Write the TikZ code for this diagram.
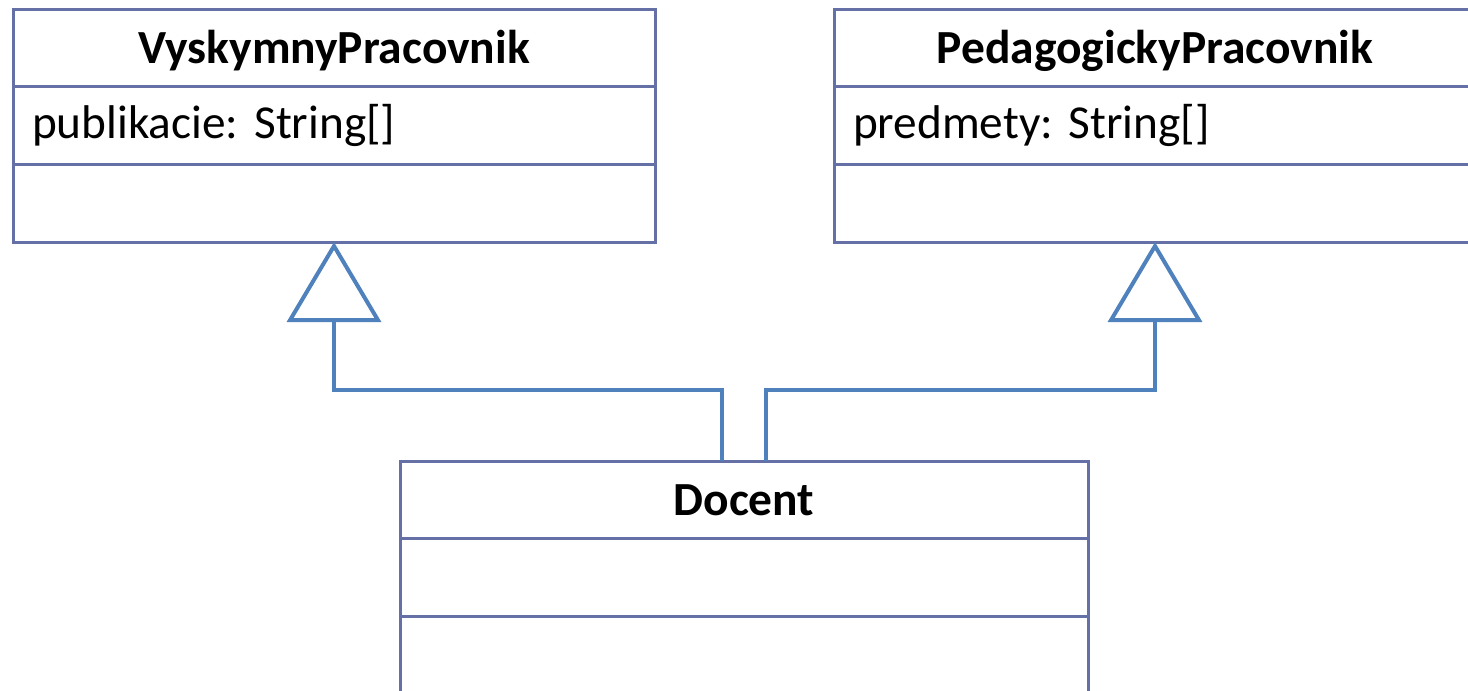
\documentclass[tikz,border=0pt]{standalone}
\usepackage{fontspec}
\setmainfont{Carlito}
\usetikzlibrary{arrows.meta}
\definecolor{boxc}{RGB}{101,112,166}
\definecolor{linec}{RGB}{79,129,189}
\begin{document}
\frenchspacing
\begin{tikzpicture}[x=1pt,y=-1pt,
  comp/.style={draw=boxc, line width=3pt, anchor=north west, inner sep=0pt, outer sep=0pt, minimum height=77.7pt},
  ctitle/.style={comp, font=\fontsize{47.5}{52}\selectfont\bfseries, align=center, text height=31pt, text depth=0pt},
  cattr/.style={comp, font=\fontsize{47.3}{52}\selectfont, align=left, inner xsep=19pt, text height=25pt, text depth=0pt},
  gen/.style={draw=linec, line width=4pt, -{Triangle[open, length=80pt, width=94pt]}}]
\useasboundingbox (0,0) rectangle (1468,691);
\clip (0,0) rectangle (1468,691);
% VyskymnyPracovnik
\node[ctitle, minimum width=642pt] (vpA) at (13,9) {VyskymnyPracovnik};
\node[cattr, text width=604pt] (vpB) at (vpA.south west) {publikacie: String[]};
\node[comp, minimum width=642pt] (vpC) at (vpB.south west) {};
% PedagogickyPracovnik
\node[ctitle, minimum width=642pt] (ppA) at (834,9) {PedagogickyPracovnik};
\node[cattr, text width=604pt] (ppB) at (ppA.south west) {predmety: String[]};
\node[comp, minimum width=642pt] (ppC) at (ppB.south west) {};
% Docent
\node[ctitle, minimum width=688pt] (dA) at (400,461) {Docent};
\node[comp, minimum width=688pt] (dB) at (dA.south west) {};
\node[comp, minimum width=688pt] (dC) at (dB.south west) {};
% connectors
\coordinate (d1) at ([xshift=-22pt]dA.north);
\coordinate (d2) at ([xshift=22pt]dA.north);
\draw[gen] (d1) -- ++(0,-71) -| (vpC.south);
\draw[gen] (d2) -- ++(0,-71) -| (ppC.south);
\end{tikzpicture}
\end{document}
